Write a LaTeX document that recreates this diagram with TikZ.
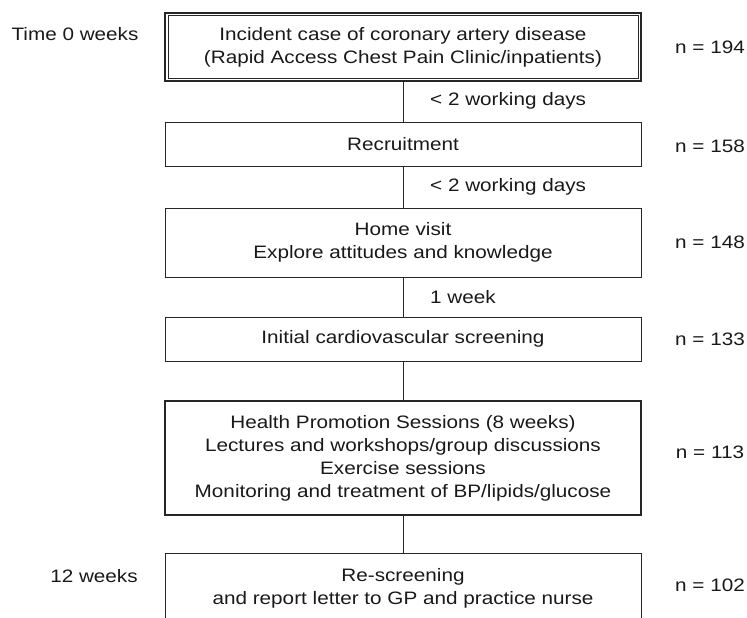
\documentclass[tikz,border=0pt]{standalone}
\usepackage{fontspec}
\setmainfont{Liberation Sans}[FakeStretch=1.15]
\begin{document}
\begin{tikzpicture}[x=1pt,y=-1pt,
  every node/.style={font=\fontsize{18}{23}\selectfont, text=black!90},
  box/.style={draw=black!85, line width=0.9pt, minimum width=476pt, align=center, inner sep=0pt},
  heavybox/.style={box, line width=2.2pt},
  conn/.style={draw=black!85, line width=0.9pt},
  lbl/.style={anchor=west, inner sep=0pt},
  side/.style={inner sep=0pt}]
\useasboundingbox (0,0) rectangle (747,618);
\clip (0,0) rectangle (747,618);

\node[heavybox, minimum height=68pt] (b1) at (403,47) {Incident case of coronary artery disease\\(Rapid Access Chest Pain Clinic/inpatients)};
\draw[line width=0.8pt, draw=black!85] ([shift={(4,4)}]b1.north west) rectangle ([shift={(-4,-4)}]b1.south east);
\node[box, minimum height=44pt] (b2) at (403,144) {Recruitment};
\node[box, minimum height=69pt] (b3) at (403,242.5) {Home visit\\Explore attitudes and knowledge};
\node[box, minimum height=44pt] (b4) at (403,339) {Initial cardiovascular screening};
\node[heavybox, minimum height=114pt] (b5) at (403,458) {Health Promotion Sessions (8 weeks)\\Lectures and workshops/group discussions\\Exercise sessions\\Monitoring and treatment of BP/lipids/glucose};
\node[box, minimum height=70pt] (b6) at (403,588) {Re-screening\\and report letter to GP and practice nurse};

\draw[conn] (b1.south) -- (b2.north);
\draw[conn] (b2.south) -- (b3.north);
\draw[conn] (b3.south) -- (b4.north);
\draw[conn] (b4.south) -- (b5.north);
\draw[conn] (b5.south) -- (b6.north);

\node[lbl] (l1) at (430,101) {< 2 working days};
\node[lbl] (l2) at (430,187) {< 2 working days};
\node[lbl] (l3) at (430,297) {1 week};

\node[side] (n1) at (710,47) {n = 194};
\node[side] (n2) at (710,146) {n = 158};
\node[side] (n3) at (710,242) {n = 148};
\node[side] (n4) at (710,339) {n = 133};
\node[side] (n5) at (710,452) {n = 113};
\node[side] (n6) at (710,585) {n = 102};

\node[side] (t0) at (75,34) {Time 0 weeks};
\node[side] (t12) at (94,576) {12 weeks};
\end{tikzpicture}
\end{document}
